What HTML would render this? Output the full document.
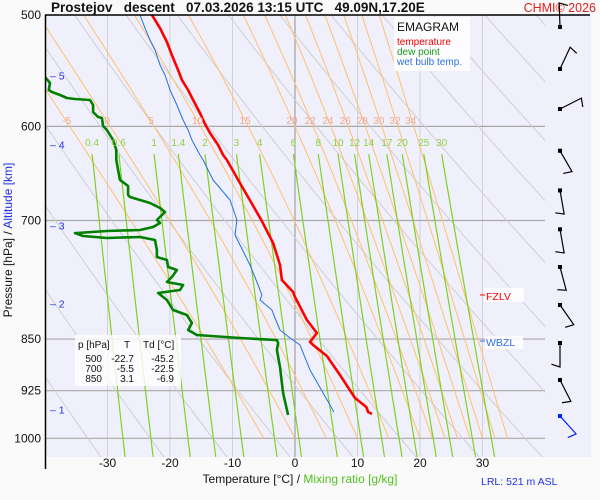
<!DOCTYPE html>
<html><head><meta charset="utf-8">
<style>
body{margin:0;background:#fafafa;}
svg{display:block;font-family:"Liberation Sans",sans-serif;}
</style></head>
<body>
<svg id="chart" width="600" height="500" viewBox="0 0 600 500" xmlns="http://www.w3.org/2000/svg">
<rect x="0" y="0" width="600" height="500" fill="#fafafa"/>
<rect x="46" y="15" width="545" height="442" fill="#f0f0fc"/>
<defs><clipPath id="clip"><rect x="46" y="15" width="499" height="442"/></clipPath></defs>
<g id="grid" clip-path="url(#clip)"></g>
<g id="series" clip-path="url(#clip)"></g>
<g id="labels"></g>
<line x1="45" y1="15" x2="590" y2="15" stroke="#000" stroke-width="1.5"/>
<line x1="45.5" y1="15" x2="45.5" y2="469" stroke="#000" stroke-width="1.5"/>
<text x="51" y="12" font-size="13.5" font-weight="bold" fill="#111" xml:space="preserve">Prostejov   descent   07.03.2026 13:15 UTC   49.09N,17.20E</text>
<text x="596" y="12" font-size="12.5" fill="#e02020" text-anchor="end">CHMI© 2026</text>
<g>
<rect x="394" y="17" width="76" height="54" fill="#ffffff" opacity="0.85"/>
<text x="397" y="31" font-size="12" fill="#111">EMAGRAM</text>
<text x="397" y="45" font-size="10" fill="#ff0000">temperature</text>
<text x="397" y="55" font-size="10" fill="#1a9a1a">dew point</text>
<text x="397" y="65" font-size="10" fill="#3070e0">wet bulb temp.</text>
</g>
<g font-size="10" fill="#111">
<rect x="75" y="335" width="106" height="51" fill="#ffffff" opacity="0.8"/>
<text x="78" y="348">p [hPa]</text>
<text x="124" y="348">T</text>
<text x="143" y="348">Td [°C]</text>
<text x="102" y="362" text-anchor="end">500</text>
<text x="134" y="362" text-anchor="end">-22.7</text>
<text x="174" y="362" text-anchor="end">-45.2</text>
<text x="102" y="372" text-anchor="end">700</text>
<text x="134" y="372" text-anchor="end">-5.5</text>
<text x="174" y="372" text-anchor="end">-22.5</text>
<text x="102" y="382" text-anchor="end">850</text>
<text x="134" y="382" text-anchor="end">3.1</text>
<text x="174" y="382" text-anchor="end">-6.9</text>
</g>
<g>
<rect x="484" y="288" width="40" height="14" fill="#fff" opacity="0.85"/>
<line x1="480" y1="295" x2="485" y2="295" stroke="#ff0000"/>
<text x="486" y="300" font-size="10.5" fill="#ff0000">FZLV</text>
</g>
<g>
<rect x="485" y="336" width="38" height="13" fill="#fff" opacity="0.85"/>
<line x1="480" y1="341" x2="485" y2="341" stroke="#3070e0"/>
<text x="486" y="346" font-size="10.5" fill="#3070e0">WBZL</text>
</g>
<text x="481" y="485" font-size="10.5" fill="#2030e0">LRL: 521 m ASL</text>
<text x="300" y="483" font-size="12" text-anchor="middle"><tspan fill="#111">Temperature [°C]  /  </tspan><tspan fill="#50c020">Mixing ratio [g/kg]</tspan></text>
<text transform="translate(12,240) rotate(-90)" font-size="12" text-anchor="middle"><tspan fill="#111">Pressure [hPa]  /  </tspan><tspan fill="#2030e0">Altitude [km]</tspan></text>
<g id="winds"></g>
</svg>
<script>
// ---- data arrays ----
const pressureTicks = [500, 600, 700, 850, 925, 1000];
const tempTicks = [-30, -20, -10, 0, 10, 20, 30];
const altitudeTicks = [1, 2, 3, 4, 5];
const altitudePressures = [954, 802, 706, 618, 552];
const mixingRatios = [0.4, 0.6, 1, 1.4, 2, 3, 4, 6, 8, 10, 12, 14, 17, 20, 25, 30];
const thetaW = [-5, 0, 5, 10, 15, 20, 22, 24, 26, 28, 30, 32, 34];
const thetaDry = [230,240,250,260,270,280,290,300,310,320,330,340,350,360,370,380,390,400,410,420,430];
// sounding: pressure (hPa) and values (°C)
const tempP = [500,510.8,522.6,533.9,547.1,556.1,565.3,574.7,587,597.7,606.6,618.6,628.8,634,658.4,699.5,726.3,752.9,771.7,787,793.4,823.9,841.6,854.1,858.3,873.9,901.6,936.2,950.1,957.9,961];
const tempT = [-22.9,-21.6,-20.5,-19.7,-18.7,-18.1,-17.1,-16.3,-15.2,-14.4,-13.6,-12.3,-11.5,-10.9,-8.8,-5.4,-3.5,-2.4,-2.1,-0.3,0,1.9,3.5,2.4,2.9,5.1,7.2,9.6,11.4,11.7,12.3];
const dewP = [553.4,558.9,565.3,567.2,570,572.8,573.7,574.7,579.4,586.1,590.9,591.9,599.7,603.6,608.6,613.6,623.7,634,644.5,655.1,661.6,671.4,673.6,680.2,685.8,690.3,699.5,702.9,707.5,711,712.2,714.5,714.5,718,720.4,719.2,722.7,734.7,743.1,746.8,755.4,759.1,767.9,774.2,778,784.4,788.3,797.3,810.5,817.2,828,837.5,844.4,848.6,851.4,855.5,865.4,889.8,928.6,962.6];
const dewT = [-40,-39.2,-39.4,-38.9,-37.6,-36.5,-35.2,-32.8,-32.3,-32.3,-31.5,-30.9,-30.7,-30.1,-29.6,-29.1,-28.6,-28.6,-28.3,-28,-26.7,-26.7,-26.4,-23.2,-21.6,-20.8,-22.1,-21.6,-22.7,-24.8,-30.1,-34.9,-35.2,-33.9,-30.1,-24.8,-22.4,-22.1,-22.1,-20.5,-20.3,-18.9,-19.7,-20.5,-17.9,-18.4,-21.9,-20.5,-19.5,-17.3,-16.5,-17.1,-15.7,-8.8,-2.9,-2.7,-2.9,-2.4,-1.9,-1.1];
const wetP = [500,510.8,520.9,529.5,542.7,551.6,565.3,579.4,593.8,603.6,613.6,628.8,634,655.1,676.9,699.5,716.8,728.7,752.9,778,790.9,797.3,810.5,821.2,837.5,848.6,858.3,894.2,946.9,957.9];
const wetT = [-24.8,-24,-23.2,-22.4,-21.6,-20.8,-20,-18.9,-17.9,-17.1,-16.5,-15.2,-14.7,-13.1,-10.4,-9.3,-9.6,-8.8,-7.2,-5.9,-5.3,-5.6,-3.7,-3.2,-2.4,-0.8,0.8,2.4,5.6,6.2];
// wind barbs: pressure levels and direction (deg)
const windP = [509.9,546.2,583.2,624.5,666.4,710.2,755.4,803.9,855.5,908.9,964.2];
const windDir = [358,25,63,150,170,170,165,145,180,153,138];
// ---- axes ----
const X0=295, XS=6.25, Y0=15, YS=423.3;
const xT = t => X0 + XS*t;
const yP = p => Y0 + Math.log(p/500)/Math.LN2*YS;
const NS='http://www.w3.org/2000/svg';
function mk(tag, parent, attrs){const e=document.createElementNS(NS,tag);for(const k in attrs)e.setAttribute(k,attrs[k]);parent.appendChild(e);return e;}
const grid=document.getElementById('grid'), series=document.getElementById('series'), labels=document.getElementById('labels'), winds=document.getElementById('winds');
tempTicks.forEach(t=>{
  const l=mk('line',grid,{x1:xT(t),x2:xT(t),y1:15,y2:457,stroke:t===0?'#909090':'#d2d2d6','stroke-width':1});
  
  
  const tx=mk('text',labels,{x:xT(t),y:467,'font-size':12,'text-anchor':'middle',fill:'#111'});
  tx.textContent=t;
  
  
});
pressureTicks.forEach(p=>{
  if(p!==500){const l=mk('line',grid,{x1:46,x2:545,y1:yP(p),y2:yP(p),stroke:'#a8a8a8','stroke-width':1.2});
  
  }
  const tx=mk('text',labels,{x:41,y:yP(p)+4,'font-size':12,'text-anchor':'end',fill:'#111'});
  tx.textContent=p;
  
  
});
altitudeTicks.forEach((a,i)=>{
  const y=yP(altitudePressures[i]);
  const tx=mk('text',labels,{x:50,y:y+4,'font-size':10.5,fill:'#2030e0'});
  tx.textContent='– '+a;
  
  
});
function path(pts){return pts.map((q,i)=>(i?'L':'M')+q[0].toFixed(1)+' '+q[1].toFixed(1)).join('');}
thetaDry.forEach(th=>{
  const pts=[];for(let p=470;p<=1040;p+=10)pts.push([xT(th*Math.pow(p/1000,0.2857)-273.15),yP(p)]);
  const e=mk('path',grid,{d:path(pts),fill:'none',stroke:'#cfcfd2','stroke-width':1});
  
  
});
function es(T){return 6.112*Math.exp(17.67*T/(T+243.5));}
function moist(tw){
  const Rd=287,cp=1005,L=2.5e6,eps=0.622;
  const f=(p,T)=>{const Tk=T+273.15,e=es(T),rs=eps*e/(p-e);return (Rd*Tk+L*rs)/(p*(cp+L*L*rs*eps/(Rd*Tk*Tk)));};
  const pts=[];let T=tw;
  for(let p=1000;p>=470;p-=5){pts.unshift([p,T]);T-=f(p,T)*5;}
  return pts;
}
thetaW.forEach(tw=>{
  const m=moist(tw);
  const e=mk('path',grid,{d:path(m.map(q=>[xT(q[1]),yP(q[0])])),fill:'none',stroke:'#ffc070','stroke-width':1});
  
  
  const q=m.find(r=>r[0]===600);
  const tx=mk('text',labels,{x:xT(q[1])-3,y:124,'font-size':10,'text-anchor':'middle',fill:'#f0a890'});
  tx.textContent=tw;
  
  
});
function tw_(w,p){const e=w*p/(622+w);const l=Math.log(e/6.112);return 243.5*l/(17.67-l);}
mixingRatios.forEach(w=>{
  const pts=[];for(let p=628;p<=1040;p+=10)pts.push([xT(tw_(w,p)),yP(p)]);
  const e=mk('path',grid,{d:path(pts),fill:'none',stroke:'#80d020','stroke-width':1.2});
  
  
  const tx=mk('text',labels,{x:xT(tw_(w,628)),y:146,'font-size':10,'text-anchor':'middle',fill:'#90d040'});
  tx.textContent=w;
  
  
});
function prof(P,T,color,w,name){
  const e=mk('path',series,{d:path(P.map((p,i)=>[xT(T[i]),yP(p)])),fill:'none',stroke:color,'stroke-width':w,'stroke-linejoin':'round'});
  
  
}
prof(wetP,wetT,'#2070e0',1,'wet-bulb-line');
prof(dewP,dewT,'#008000',2.6,'dew-point-line');
prof(tempP,tempT,'#ff0000',2.6,'temperature-line');
windP.forEach((p,i)=>{
  const y=yP(p),x=560,d=windDir[i]*Math.PI/180,len=24;
  const tx=x+len*Math.sin(d), ty=y-len*Math.cos(d);
  const bx=tx+9*Math.sin(d+Math.PI*0.6), by=ty-9*Math.cos(d+Math.PI*0.6);
  const col=i===windP.length-1?'#0020ff':'#000';
  const g=mk('g',winds,{});
  
  
  mk('path',g,{d:`M${x} ${y}L${tx} ${ty}L${bx} ${by}`,fill:'none',stroke:col,'stroke-width':1.2});
  mk('rect',g,{x:x-2,y:y-2,width:4,height:4,fill:col});
});
</script>
</body></html>
